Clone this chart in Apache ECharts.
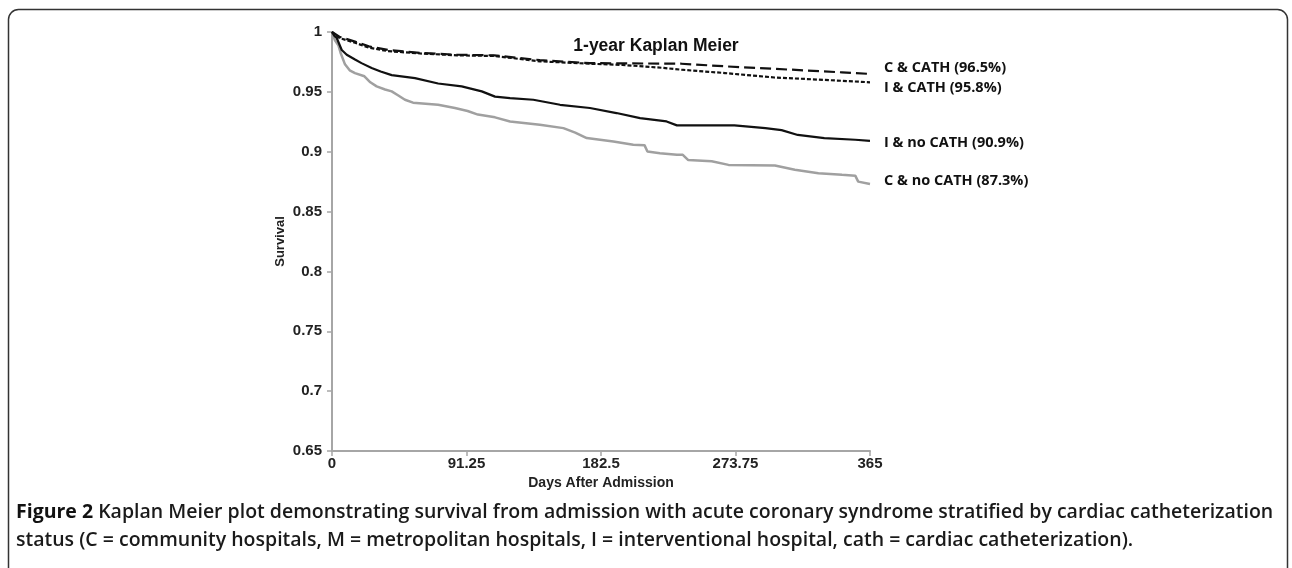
<!DOCTYPE html>
<html>
<head>
<meta charset="utf-8">
<script src="https://cdn.jsdelivr.net/npm/echarts@6/dist/echarts.min.js"></script>
<style>
html,body{margin:0;padding:0;background:#fff;}
#chart{width:1292px;height:568px;}
</style>
</head>
<body>
<div id="chart"></div>
<script>
// Series names
const seriesNames = ['C & CATH (96.5%)', 'I & CATH (95.8%)', 'I & no CATH (90.9%)', 'C & no CATH (87.3%)'];

// C & CATH (long dash)
const cCathDays = [0, 5, 15.6, 25, 38, 61, 85, 110, 141, 175, 197, 237, 278, 312, 346, 365];
const cCathVals = [1, 0.996, 0.992, 0.988, 0.985, 0.9824, 0.981, 0.9805, 0.9765, 0.974, 0.9738, 0.9735, 0.9705, 0.9685, 0.9663, 0.965];

// I & CATH (short dash)
const iCathDays = [0, 5, 15.6, 25, 38, 61, 85, 110, 141, 175, 197, 225, 237, 266.6, 300, 334, 365];
const iCathVals = [1, 0.995, 0.991, 0.987, 0.984, 0.982, 0.9805, 0.98, 0.9755, 0.9735, 0.9725, 0.97, 0.9685, 0.9657, 0.962, 0.96, 0.958];

// I & no CATH (solid black)
const iNoCathDays = [0, 1.5, 3.2, 6.6, 10, 15.6, 20, 26.9, 33, 40.5, 56.3, 72, 88, 101.6, 110.6, 120.8, 136.6, 154.7, 175, 193, 209, 227, 234, 273, 294, 305, 316, 334, 355, 365];
const iNoCathVals = [1, 0.997, 0.995, 0.985, 0.981, 0.977, 0.974, 0.97, 0.967, 0.964, 0.9615, 0.957, 0.9546, 0.9504, 0.946, 0.9448, 0.9434, 0.9392, 0.9365, 0.9323, 0.928, 0.9253, 0.922, 0.922, 0.9197, 0.918, 0.914, 0.9114, 0.91, 0.909];

// C & no CATH (grey)
const cNoCathDays = [0, 2, 4.3, 6, 8.8, 12, 15.6, 22, 26, 30.3, 36, 40.5, 45, 49.5, 55, 72, 83.4, 92, 99, 110.6, 120.8, 141, 157, 165, 172.8, 190.9, 204.4, 212, 214, 222.5, 234, 238, 241.7, 257.6, 269, 300.5, 314, 330, 346, 355, 357, 365];
const cNoCathVals = [1, 0.993, 0.989, 0.982, 0.973, 0.968, 0.9657, 0.963, 0.958, 0.9546, 0.952, 0.9504, 0.947, 0.9434, 0.941, 0.9392, 0.9365, 0.934, 0.931, 0.9287, 0.9253, 0.9225, 0.9197, 0.916, 0.9114, 0.9086, 0.9058, 0.9055, 0.9002, 0.8988, 0.8974, 0.8974, 0.893, 0.892, 0.889, 0.8885, 0.885, 0.882, 0.8807, 0.88, 0.875, 0.873];

// Axis ticks
const xTicks = [0, 91.25, 182.5, 273.75, 365];
const yTickLabels = ['0.65', '0.7', '0.75', '0.8', '0.85', '0.9', '0.95', '1'];

const pair = (d, v) => d.map((x, i) => [x, v[i]]);

const chart = echarts.init(document.getElementById('chart'), null, {renderer: 'canvas'});

const tickFont = {fontFamily: 'Liberation Sans, Arial, sans-serif', fontWeight: 'bold', fontSize: 15, color: '#222'};
const endFont = {fontFamily: 'Open Sans, sans-serif', fontWeight: 'bold', fontSize: 14.5, color: '#111'};

function mkSeries(name, data, color, type, width, dy) {
  return {
    name: name,
    type: 'line',
    data: data,
    showSymbol: false,
    symbol: 'none',
    smooth: false,
    lineStyle: {color: color, width: width, type: type},
    endLabel: {show: true, formatter: name, offset: [6, dy], ...endFont},
    emphasis: {disabled: true},
    silent: true,
    animation: false
  };
}

chart.setOption({
  animation: false,
  backgroundColor: '#fff',
  grid: {left: 332, top: 32, right: 422, bottom: 117, containLabel: false},
  title: {
    text: '1-year Kaplan Meier',
    left: 651, top: 32, textAlign: 'center',
    textStyle: {fontFamily: 'Liberation Sans, Arial, sans-serif', fontWeight: 'bold', fontSize: 17.5, color: '#111'}
  },
  xAxis: {
    type: 'value', min: 0, max: 365, interval: 91.25,
    name: 'Days After Admission', nameLocation: 'middle', nameGap: 25,
    nameTextStyle: {fontFamily: 'Liberation Sans, Arial, sans-serif', fontWeight: 'bold', fontSize: 14, color: '#222'},
    axisLine: {show: true, onZero: false, lineStyle: {color: '#a6a6a6', width: 2}},
    axisTick: {show: true, length: 5, lineStyle: {color: '#a6a6a6', width: 1.5}},
    axisLabel: {margin: 5, formatter: v => { const i = xTicks.findIndex(t => Math.abs(t - v) < 1e-6); return i >= 0 ? String(xTicks[i]) : ''; }, ...tickFont},
    splitLine: {show: false}
  },
  yAxis: {
    type: 'value', min: 0.65, max: 1, interval: 0.05,
    name: 'Survival', nameLocation: 'middle', nameGap: 45, nameRotate: 90,
    nameTextStyle: {fontFamily: 'Liberation Sans, Arial, sans-serif', fontWeight: 'bold', fontSize: 13, color: '#222'},
    axisLine: {show: true, lineStyle: {color: '#a6a6a6', width: 2}},
    axisTick: {show: true, length: 5, lineStyle: {color: '#a6a6a6', width: 1.5}},
    axisLabel: {margin: 10, formatter: v => { const i = Math.round((v - 0.65) / 0.05); return yTickLabels[i] || ''; }, ...tickFont},
    splitLine: {show: false}
  },
  series: [
    mkSeries(seriesNames[3], pair(cNoCathDays, cNoCathVals), '#a0a0a0', 'solid', 2.5, -3),
    mkSeries(seriesNames[2], pair(iNoCathDays, iNoCathVals), '#111111', 'solid', 2.2, 2),
    mkSeries(seriesNames[1], pair(iCathDays, iCathVals), '#111111', [4, 2], 2.2, 6),
    mkSeries(seriesNames[0], pair(cCathDays, cCathVals), '#111111', [11, 5], 2.2, -6)
  ],
  graphic: [
    {type: 'rect', shape: {x: 8.5, y: 9.5, width: 1279, height: 700, r: 10}, style: {fill: 'none', stroke: '#333', lineWidth: 1.5}, silent: true, z: -1},
    {type: 'text', left: 16, top: 502, style: {
      text: '{b|Figure 2} Kaplan Meier plot demonstrating survival from admission with acute coronary syndrome stratified by cardiac catheterization',
      rich: {b: {fontFamily: 'Open Sans, sans-serif', fontWeight: 'bold', fontSize: 19.5, fill: '#111'}},
      fontFamily: 'Open Sans, sans-serif', fontWeight: 600, fontSize: 19.5, fill: '#1a1a1a'
    }},
    {type: 'text', left: 16, top: 530, style: {
      text: 'status (C = community hospitals, M = metropolitan hospitals, I = interventional hospital, cath = cardiac catheterization).',
      fontFamily: 'Open Sans, sans-serif', fontWeight: 600, fontSize: 19.5, fill: '#1a1a1a'
    }}
  ]
});
</script>
</body>
</html>
